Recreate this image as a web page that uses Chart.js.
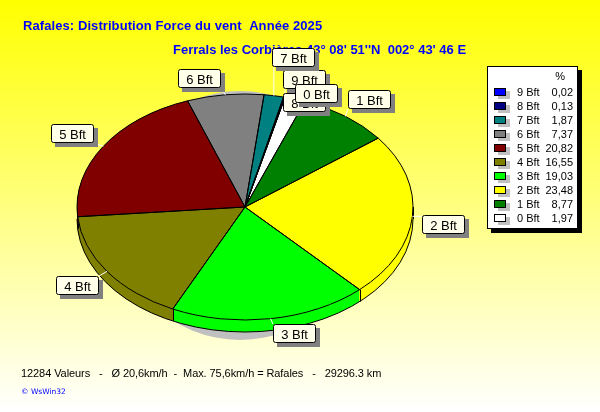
<!DOCTYPE html>
<html>
<head>
<meta charset="utf-8">
<style>html,body{margin:0;padding:0;background:#fff}canvas{display:block}</style>
<script src="https://cdn.jsdelivr.net/npm/chart.js@4"></script>
</head>
<body>
<canvas id="c" width="600" height="412"></canvas>
<script>
// Data, in the order of the legend (top to bottom)
const categories = ["9 Bft","8 Bft","7 Bft","6 Bft","5 Bft","4 Bft","3 Bft","2 Bft","1 Bft","0 Bft"];
const percents   = [0.02,0.13,1.87,7.37,20.82,16.55,19.03,23.48,8.77,1.97];
const colours    = ["#0000ff","#000080","#008080","#808080","#800000","#808000","#00ff00","#ffff00","#008000","#ffffff"];
const titleLine1 = "Rafales: Distribution Force du vent  Année 2025";
const titleLine2 = "Ferrals les Corbières 43° 08' 51''N  002° 43' 46 E";
const footLine   = "12284 Valeurs   -   Ø 20,6km/h  -  Max. 75,6km/h = Rafales   -   29296.3 km";
const creditLine = "© WsWin32";

// Label box top-left corners, same order as categories
const labelBoxes = [[283,70],[283,93],[272,48],[178,69],[51,124],[56,276],[273,324],[422,215],[348,90],[295,84]];
const BOX_W = 43, BOX_H = 19, TILT = 113/168, DEPTH = 12;
const FONT = '"Liberation Sans", Arial, sans-serif';

const piePlugin = {
  id: 'pie3d',
  beforeDraw(chart) {
    const ctx = chart.ctx;
    const g = ctx.createLinearGradient(0,0,0,412);
    g.addColorStop(0,'#ffff00'); g.addColorStop(1,'#ffffff');
    ctx.save(); ctx.fillStyle = g; ctx.fillRect(0,0,600,412);
    ctx.fillStyle = '#0000ff'; ctx.textBaseline = 'alphabetic'; ctx.textAlign = 'left';
    ctx.font = 'bold 13px ' + FONT;
    ctx.letterSpacing = '0.08px';
    ctx.fillText(titleLine1, 23, 30);
    ctx.letterSpacing = '0px';
    ctx.fillText(titleLine2, 173, 54);
    ctx.letterSpacing = '-0.08px';
    ctx.fillStyle = '#000000'; ctx.font = '11px ' + FONT;
    ctx.fillText(footLine, 21, 377);
    ctx.letterSpacing = '0px';
    ctx.fillStyle = '#0000ff'; ctx.font = '7.5px "DejaVu Sans", sans-serif';
    ctx.fillText(creditLine, 21, 394);
    ctx.restore();
  },
  beforeDatasetsDraw(chart) {
    const ctx = chart.ctx, arcs = chart.getDatasetMeta(0).data;
    const {x:cx, y:cy, outerRadius:r} = arcs[0];
    const ry = r*TILT;
    // soft shadow behind the pie
    ctx.save(); ctx.fillStyle = '#c0c0c0';
    ctx.beginPath(); ctx.ellipse(cx-5, cy+8.5, 125, 124.5, 0, 0, Math.PI*2); ctx.fill();
    ctx.restore();
    // pie side, same colours as the top
    for (let k = DEPTH; k >= 1; k--) {
      ctx.save();
      ctx.translate(cx, cy+k); ctx.scale(1, TILT); ctx.translate(-cx, -cy);
      arcs.forEach(a => a.draw(ctx));
      ctx.restore();
    }
    // outlines of the side
    ctx.save(); ctx.strokeStyle = '#000'; ctx.lineWidth = 1;
    ctx.beginPath(); ctx.ellipse(cx, cy+DEPTH, r, ry, 0, 0, Math.PI); ctx.stroke();
    const edges = arcs.map(a => a.startAngle).concat([0, Math.PI]);
    edges.forEach(t => {
      if (Math.sin(t) >= -1e-6) {
        const x = Math.round(cx + r*Math.cos(t)) + 0.5, y = cy + ry*Math.sin(t);
        ctx.beginPath(); ctx.moveTo(x, y); ctx.lineTo(x, y+DEPTH); ctx.stroke();
      }
    });
    ctx.restore();
    // top face: flatten the library's own drawing of the slices
    ctx.save();
    ctx.translate(cx, cy); ctx.scale(1, TILT); ctx.translate(-cx, -cy);
  },
  afterDatasetsDraw(chart) {
    const ctx = chart.ctx, arcs = chart.getDatasetMeta(0).data;
    ctx.restore();
    const {x:cx, y:cy, outerRadius:r} = arcs[0];
    const ry = r*TILT;
    ctx.save(); ctx.strokeStyle = '#000'; ctx.lineWidth = 1;
    arcs.forEach(a => {
      ctx.beginPath(); ctx.moveTo(cx, cy);
      ctx.ellipse(cx, cy, r, ry, 0, a.startAngle, a.endAngle);
      ctx.closePath(); ctx.stroke();
    });
    ctx.restore();
  },
  afterDraw(chart) {
    const ctx = chart.ctx, arcs = chart.getDatasetMeta(0).data;
    const labels = chart.data.labels;
    ctx.save();
    // callout boxes (9 Bft first, 0 Bft on top)
    categories.forEach((name, i) => {
      const a = arcs[labels.indexOf(name)];
      const t = (a.startAngle + a.endAngle)/2;
      const px = a.x + a.outerRadius*Math.cos(t), py = a.y + a.outerRadius*TILT*Math.sin(t);
      const [bx, by] = labelBoxes[i];
      const qx = Math.max(bx, Math.min(bx+BOX_W, px)), qy = Math.max(by, Math.min(by+BOX_H, py));
      ctx.strokeStyle = '#ffffff'; ctx.lineWidth = 1;
      ctx.beginPath(); ctx.moveTo(px, py); ctx.lineTo(qx, qy); ctx.stroke();
      ctx.fillStyle = '#808080';
      ctx.fillRect(bx+4, by+4, BOX_W, BOX_H);
      ctx.fillStyle = '#ffffea'; ctx.strokeStyle = '#000';
      ctx.beginPath(); ctx.roundRect(bx+0.5, by+0.5, BOX_W-1, BOX_H-1, 2); ctx.fill(); ctx.stroke();
      ctx.fillStyle = '#000'; ctx.font = '13px ' + FONT; ctx.textAlign = 'center'; ctx.textBaseline = 'alphabetic';
      ctx.fillText(name, bx+BOX_W/2, by+14.5);
    });
    // legend panel
    ctx.fillStyle = '#000'; ctx.fillRect(491, 70, 91, 163);
    ctx.fillStyle = '#fff'; ctx.fillRect(487, 66, 91, 163);
    ctx.strokeStyle = '#000'; ctx.strokeRect(487.5, 66.5, 90, 162);
    ctx.font = '11px ' + FONT; ctx.textBaseline = 'alphabetic';
    ctx.fillStyle = '#000'; ctx.textAlign = 'right';
    ctx.fillText('%', 565, 80);
    categories.forEach((name, i) => {
      const y = 92 + i*14;
      ctx.fillStyle = '#c0c0c0'; ctx.fillRect(498, y-1, 12, 8);
      ctx.fillStyle = colours[i]; ctx.fillRect(494, y-4, 12, 8);
      ctx.strokeStyle = '#000'; ctx.strokeRect(494.5, y-3.5, 11, 7);
      ctx.fillStyle = '#000'; ctx.textAlign = 'left'; ctx.fillText(name, 517, y+4);
      ctx.textAlign = 'right'; ctx.fillText(percents[i].toFixed(2).replace('.', ','), 573, y+4);
    });
    ctx.restore();
  }
};

new Chart(document.getElementById('c'), {
  type: 'pie',
  data: {
    labels: categories.slice().reverse(),
    datasets: [{
      data: percents.slice().reverse(),
      backgroundColor: colours.slice().reverse(),
      borderWidth: 0,
      clip: false
    }]
  },
  options: {
    responsive: false,
    animation: false,
    devicePixelRatio: 1,
    rotation: 13.8,
    events: [],
    layout: { padding: { left: 77, right: 187, top: 39, bottom: 37 } },
    plugins: { legend: { display: false }, title: { display: false }, tooltip: { enabled: false } }
  },
  plugins: [piePlugin]
});
</script>
</body>
</html>
